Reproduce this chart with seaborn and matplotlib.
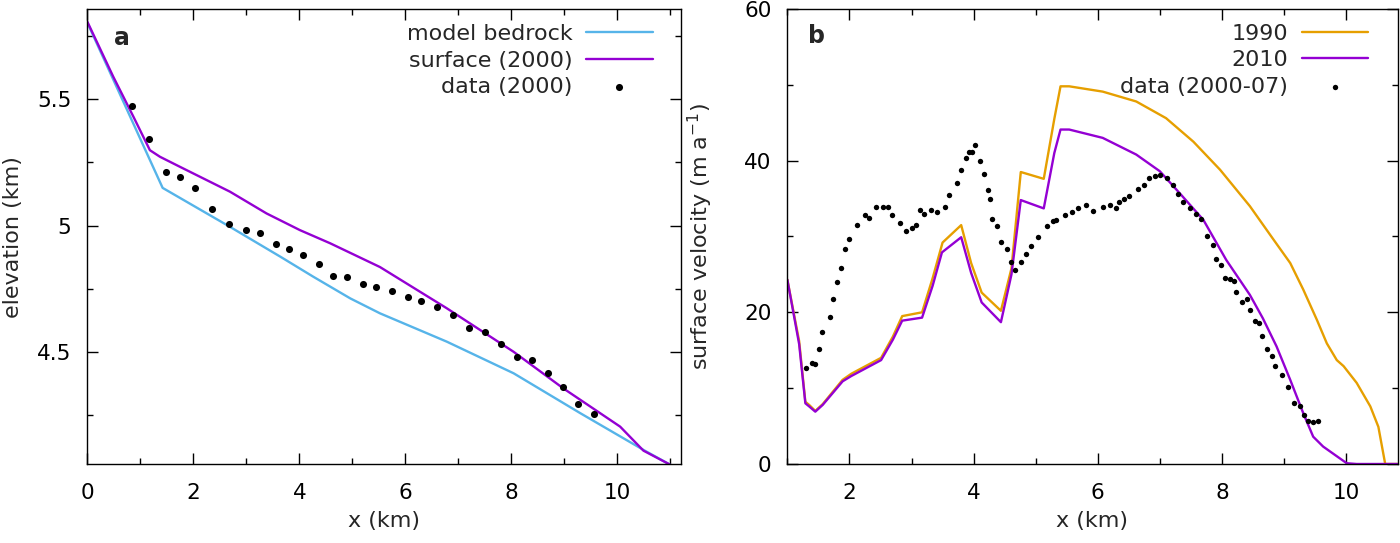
import matplotlib
matplotlib.use("Agg")
import matplotlib.pyplot as plt
from matplotlib.ticker import MultipleLocator, FormatStrFormatter
import seaborn as sns

# --- dados ---
# painel a: perfil de elevação
bed_x = [0.0, 1.42, 2.69, 3.64, 4.26, 4.96, 5.52, 6.78, 8.04, 9.30, 10.49, 10.98]
bed_z = [5.802, 5.149, 4.995, 4.877, 4.798, 4.712, 4.653, 4.541, 4.416, 4.258, 4.113, 4.056]

surf_x = [0.0, 0.49, 0.87, 1.18, 1.37, 1.75, 2.69, 3.38, 4.01, 4.58, 5.52, 6.78, 8.04,
          8.98, 10.05, 10.49, 10.98]
surf_z = [5.806, 5.588, 5.430, 5.298, 5.272, 5.232, 5.134, 5.048, 4.982, 4.930, 4.836,
          4.673, 4.501, 4.356, 4.205, 4.110, 4.056]

elev_data_x = [0.85, 1.16, 1.48, 1.74, 2.03, 2.35, 2.68, 2.99, 3.26, 3.55, 3.81, 4.07,
               4.37, 4.64, 4.89, 5.20, 5.45, 5.75, 6.04, 6.30, 6.59, 6.90, 7.20, 7.50,
               7.81, 8.10, 8.39, 8.69, 8.97, 9.26, 9.55]
elev_data_z = [5.472, 5.342, 5.211, 5.193, 5.149, 5.064, 5.006, 4.982, 4.969, 4.926,
               4.908, 4.883, 4.848, 4.800, 4.796, 4.769, 4.758, 4.741, 4.717, 4.703,
               4.679, 4.648, 4.596, 4.578, 4.532, 4.480, 4.468, 4.418, 4.363, 4.293,
               4.256]

# painel b: velocidade de superfície
v1990_x = [1.0, 1.19, 1.29, 1.35, 1.45, 1.57, 1.89, 2.03, 2.51, 2.70, 2.85, 3.17, 3.34,
           3.50, 3.80, 3.96, 4.13, 4.44, 4.61, 4.76, 5.13, 5.30, 5.40, 5.54, 6.08, 6.62,
           7.10, 7.54, 7.97, 8.45, 8.83, 9.10, 9.31, 9.53, 9.69, 9.85, 9.96, 10.17,
           10.39, 10.52, 10.63, 10.83]
v1990_v = [24.3, 16.2, 8.2, 7.8, 7.0, 7.9, 11.1, 11.9, 14.0, 16.8, 19.5, 20.0, 24.5,
           29.2, 31.5, 26.5, 22.6, 20.2, 25.8, 38.5, 37.6, 45.5, 49.8, 49.8, 49.1, 47.8,
           45.6, 42.5, 38.8, 34.0, 29.6, 26.5, 23.0, 19.0, 15.9, 13.7, 12.9, 10.7,
           7.6, 4.9, 0.0, 0.0]

v2010_x = [1.0, 1.19, 1.29, 1.35, 1.45, 1.57, 1.89, 2.03, 2.51, 2.70, 2.85, 3.17, 3.34,
           3.49, 3.80, 3.96, 4.13, 4.44, 4.61, 4.76, 5.13, 5.30, 5.40, 5.54, 6.08, 6.62,
           7.00, 7.32, 7.70, 8.07, 8.45, 8.66, 8.88, 9.10, 9.31, 9.47, 9.63, 10.01,
           10.17, 10.83]
v2010_v = [24.3, 15.8, 8.0, 7.6, 6.9, 7.8, 10.9, 11.6, 13.7, 16.4, 18.9, 19.3, 23.5,
           27.9, 29.9, 25.2, 21.3, 18.7, 25.0, 34.8, 33.7, 41.0, 44.1, 44.1, 43.0, 40.8,
           38.6, 35.7, 32.2, 26.9, 22.3, 19.2, 15.5, 11.1, 6.7, 3.6, 2.3, 0.1,
           0.0, 0.0]

vel_data_x = [1.30, 1.39, 1.44, 1.51, 1.56, 1.68, 1.73, 1.80, 1.87, 1.93,
              2.00, 2.12, 2.25, 2.32, 2.42, 2.54, 2.62, 2.68, 2.82, 2.91,
              3.00, 3.07, 3.13, 3.20, 3.32, 3.41, 3.54, 3.60, 3.73, 3.79,
              3.87, 3.92, 3.97, 4.02, 4.10, 4.17, 4.23, 4.27, 4.30, 4.38,
              4.44, 4.53, 4.61, 4.67, 4.77, 4.84, 4.93, 5.03, 5.18, 5.28,
              5.33, 5.48, 5.58, 5.68, 5.81, 5.93, 6.08, 6.19, 6.30, 6.35,
              6.43, 6.51, 6.65, 6.74, 6.83, 6.92, 7.01, 7.11, 7.21, 7.29,
              7.38, 7.49, 7.58, 7.67, 7.76, 7.86, 7.91, 7.99, 8.05, 8.13,
              8.19, 8.23, 8.33, 8.41, 8.45, 8.53, 8.60, 8.65, 8.73, 8.80,
              8.86, 8.96, 9.07, 9.16, 9.26, 9.32, 9.39, 9.46, 9.54]
vel_data_v = [12.6, 13.3, 13.2, 15.1, 17.4, 19.4, 21.7, 24.0, 25.8, 28.3,
              29.7, 31.5, 32.8, 32.4, 33.9, 33.9, 33.9, 32.8, 31.8, 30.7,
              31.1, 31.5, 33.5, 32.9, 33.5, 33.2, 33.9, 35.5, 37.0, 38.7,
              40.4, 41.2, 41.2, 42.1, 39.9, 38.3, 36.1, 34.9, 32.3, 31.4,
              29.3, 28.3, 26.7, 25.6, 26.6, 27.7, 28.7, 29.9, 31.4, 32.0,
              32.2, 32.8, 33.2, 33.7, 34.1, 33.4, 33.9, 34.1, 33.8, 34.6,
              34.9, 35.4, 36.3, 36.8, 37.7, 38.0, 38.1, 37.7, 36.8, 35.6,
              34.6, 33.7, 33.0, 32.3, 30.1, 28.9, 27.0, 26.2, 24.5, 24.4,
              24.1, 22.7, 21.4, 21.7, 20.3, 18.9, 18.6, 16.9, 15.1, 14.3,
              12.9, 11.8, 10.2, 8.1, 7.6, 6.5, 5.7, 5.6, 5.7]

# cores no estilo gnuplot
AZUL = "#56b4e9"
ROXO = "#9400d3"
LARANJA = "#e69f00"

sns.set_theme(style="ticks")
plt.rcParams["font.family"] = ["DejaVu Sans"]
plt.rcParams["font.size"] = 16
plt.rcParams["axes.linewidth"] = 1.0


def estilo_eixo(ax):
    ax.tick_params(which="both", direction="in", top=True, right=True,
                   width=1.0, colors="black", labelsize=15.5)
    ax.tick_params(which="major", length=8)
    ax.tick_params(which="minor", length=4)
    ax.tick_params(axis="x", which="major", pad=13.5)
    ax.tick_params(axis="y", which="major", pad=11.5)
    for s in ax.spines.values():
        s.set_color("black")


def legenda(ax):
    leg = ax.legend(loc="upper right", bbox_to_anchor=(0.952, 0.968), frameon=False,
                    markerfirst=False, fontsize=16, handlelength=3.0,
                    handletextpad=0.6, labelspacing=0.3, borderaxespad=0,
                    borderpad=0, scatterpoints=1)
    return leg


fig = plt.figure(figsize=(14, 5.43), dpi=100)

# --- painel a ---
ax1 = fig.add_axes([0.0624, 0.1449, 0.4241, 0.8379])
sns.lineplot(x=bed_x, y=bed_z, ax=ax1, color=AZUL, lw=1.7, sort=False,
             estimator=None, label="model bedrock")
sns.lineplot(x=surf_x, y=surf_z, ax=ax1, color=ROXO, lw=1.7, sort=False,
             estimator=None, label="surface (2000)")
sns.scatterplot(x=elev_data_x, y=elev_data_z, ax=ax1, color="black", s=26,
                linewidth=0, label="data (2000)", zorder=3)
ax1.set_xlim(0, 11.2)
ax1.set_ylim(4.056, 5.855)
ax1.xaxis.set_major_locator(MultipleLocator(2))
ax1.xaxis.set_minor_locator(MultipleLocator(1))
ax1.yaxis.set_major_locator(MultipleLocator(0.5))
ax1.yaxis.set_minor_locator(MultipleLocator(0.25))
ax1.yaxis.set_major_formatter(FormatStrFormatter("%g"))
estilo_eixo(ax1)
ax1.set_xlabel("x (km)", fontsize=16, labelpad=6)
ax1.set_ylabel("elevation (km)", fontsize=16, labelpad=10)
ax1.text(0.058, 0.937, "a", transform=ax1.transAxes, fontsize=17,
         fontweight="bold", ha="center", va="center")
legenda(ax1)

# --- painel b ---
ax2 = fig.add_axes([0.5624, 0.1455, 0.4359, 0.838])
sns.lineplot(x=v1990_x, y=v1990_v, ax=ax2, color=LARANJA, lw=1.7, sort=False,
             estimator=None, label="1990")
sns.lineplot(x=v2010_x, y=v2010_v, ax=ax2, color=ROXO, lw=1.7, sort=False,
             estimator=None, label="2010")
sns.scatterplot(x=vel_data_x, y=vel_data_v, ax=ax2, color="black", s=15,
                linewidth=0, label="data (2000-07)", zorder=3)
ax2.set_xlim(1, 10.83)
ax2.set_ylim(0, 60)
ax2.xaxis.set_major_locator(MultipleLocator(2))
ax2.xaxis.set_minor_locator(MultipleLocator(1))
ax2.yaxis.set_major_locator(MultipleLocator(20))
ax2.yaxis.set_minor_locator(MultipleLocator(10))
estilo_eixo(ax2)
ax2.set_xlabel("x (km)", fontsize=16, labelpad=6)
ax2.set_ylabel("surface velocity (m a$^{-1}$)", fontsize=16, labelpad=21)
ax2.text(0.047, 0.94, "b", transform=ax2.transAxes, fontsize=17,
         fontweight="bold", ha="center", va="center")
legenda(ax2)

fig.savefig("out.png", dpi=100)
plt.close(fig)
